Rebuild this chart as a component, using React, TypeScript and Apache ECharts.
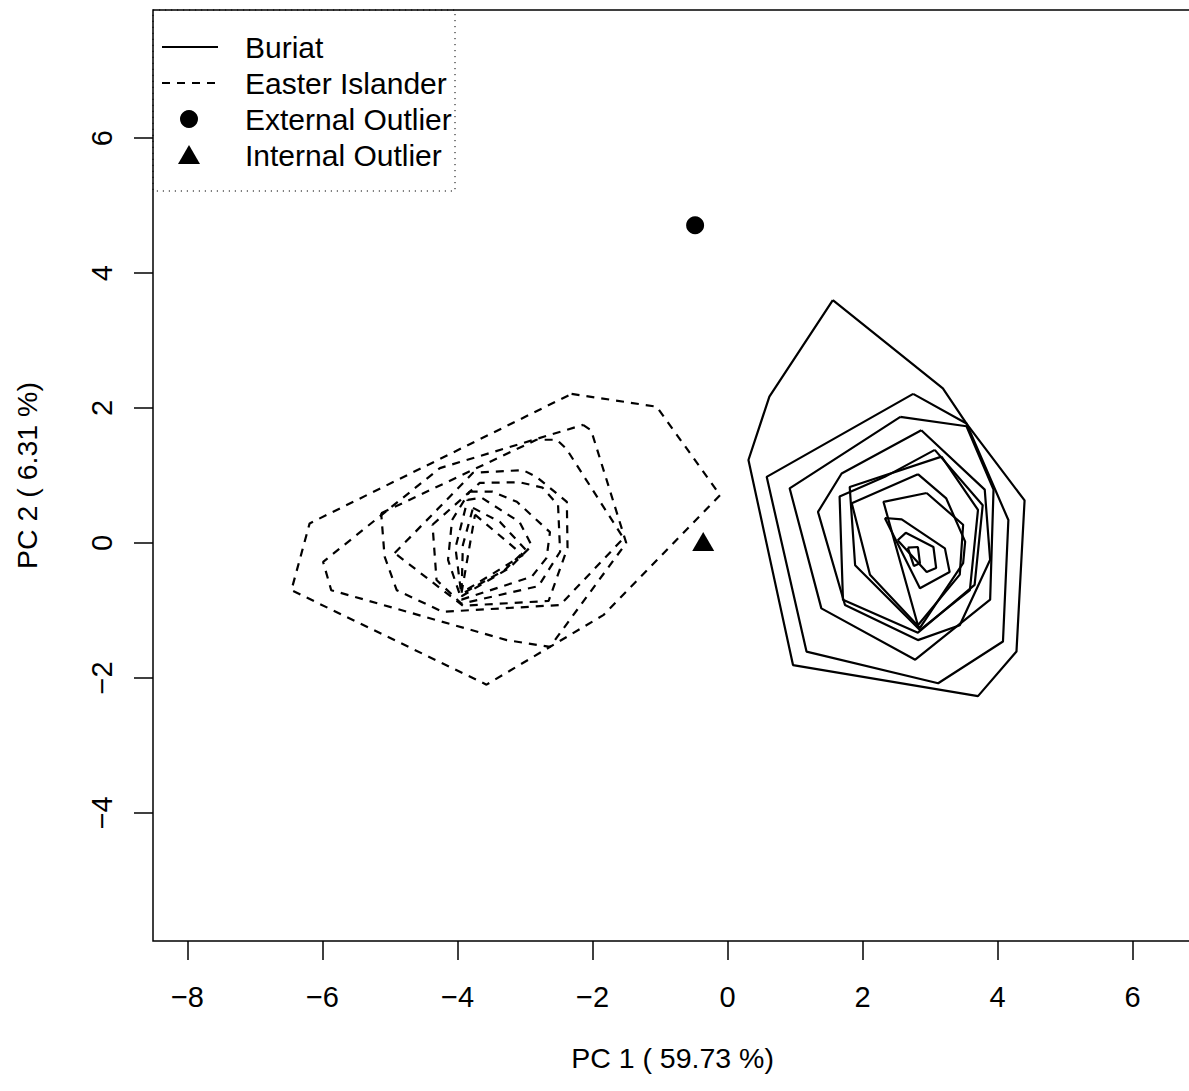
import React, { useEffect, useRef } from "react";
import * as echarts from "echarts";

// Axis ticks and titles
const xTicks = [-8, -6, -4, -2, 0, 2, 4, 6];
const yTicks = [-4, -2, 0, 2, 4, 6];
const xTitle = "PC 1 ( 59.73 %)";
const yTitle = "PC 2 ( 6.31 %)";

// Legend entries
const legendLabels = ["Buriat", "Easter Islander", "External Outlier", "Internal Outlier"];

// Buriat depth contours (PC1, PC2), outermost first
const buriat1 = [[1.56, 3.6], [3.19, 2.29], [3.54, 1.77], [4.4, 0.63], [4.28, -1.61], [3.71, -2.27], [0.97, -1.81], [0.31, 1.23], [0.62, 2.17]];
const buriat2 = [[2.75, 2.21], [3.54, 1.77], [4.16, 0.34], [4.08, -1.46], [3.12, -2.08], [1.17, -1.61], [0.58, 0.98]];
const buriat3 = [[2.56, 1.87], [3.54, 1.73], [3.94, 0.79], [3.89, -0.84], [2.78, -1.73], [1.39, -0.97], [0.92, 0.81]];
const buriat4 = [[2.87, 1.67], [3.81, 0.79], [3.89, -0.25], [3.44, -1.22], [2.82, -1.44], [1.74, -0.92], [1.34, 0.46], [1.69, 1.03]];
const buriat5 = [[3.07, 1.38], [3.78, 0.56], [3.66, -0.62], [2.82, -1.33], [1.71, -0.84], [1.66, 0.69], [2.33, 0.98]];
const buriat6 = [[3.17, 1.28], [3.71, 0.49], [3.59, -0.7], [2.85, -1.29], [1.89, -0.33], [1.81, 0.83]];
const buriat7 = [[2.82, 1.02], [3.24, 0.66], [3.52, 0.02], [3.49, -0.3], [2.85, -1.26], [2.11, -0.47], [1.84, 0.59]];
const buriat8 = [[2.95, 0.74], [3.49, 0.27], [3.44, -0.47], [2.82, -1.22], [2.31, 0.61]];
const buriat9 = [[2.33, 0.37], [2.58, 0.35], [3.22, -0.08], [3.29, -0.43], [2.85, -0.67]];
const buriat10 = [[2.52, 0.04], [2.64, 0.15], [3.05, -0.06], [3.09, -0.37], [2.95, -0.43]];
const buriat11 = [[2.67, -0.07], [2.82, -0.06], [2.85, -0.3], [2.76, -0.34]];

// Easter Islander depth contours, outermost first
const easter1 = [[-2.31, 2.21], [-1.05, 2.02], [-0.11, 0.71], [-1.84, -1.07], [-3.57, -2.1], [-6.46, -0.7], [-6.19, 0.29]];
const easter2 = [[-2.14, 1.75], [-2.02, 1.67], [-1.5, 0.0], [-2.63, -1.54], [-3.27, -1.44], [-5.87, -0.7], [-5.99, -0.28], [-4.26, 1.11]];
const easter3 = [[-5.13, 0.44], [-2.83, 1.53], [-2.53, 1.53], [-2.39, 1.4], [-1.54, 0.07], [-2.48, -0.92], [-4.22, -1.02], [-4.9, -0.7], [-5.08, -0.2]];
const easter4 = [[-4.93, -0.15], [-3.77, 1.04], [-3.03, 1.08], [-2.83, 0.98], [-2.38, 0.61], [-2.37, -0.07], [-2.65, -0.86], [-3.92, -0.93]];
const easter5 = [[-4.37, 0.27], [-3.67, 0.89], [-3.08, 0.9], [-2.74, 0.82], [-2.51, 0.56], [-2.48, -0.13], [-2.8, -0.64], [-3.94, -0.9], [-4.31, -0.55]];
const easter6 = [[-3.82, 0.76], [-3.48, 0.76], [-3.12, 0.61], [-2.63, 0.16], [-2.68, -0.22], [-2.9, -0.5], [-3.94, -0.84], [-4.14, -0.25], [-4.08, 0.34]];
const easter7 = [[-3.85, 0.64], [-3.64, 0.67], [-3.08, 0.31], [-2.9, -0.04], [-3.23, -0.37], [-3.94, -0.79], [-4.03, -0.07]];
const easter8 = [[-3.77, 0.52], [-3.37, 0.31], [-2.99, -0.1], [-3.3, -0.4], [-3.94, -0.76], [-3.92, -0.03]];
const easter9 = [[-3.74, 0.42], [-3.03, -0.18], [-3.94, -0.74]];

// Outlying observations
const externalOutlier = [[-0.48, 4.71]];
const internalOutlier = [[-0.36, 0.02]];

const buriatRings = [buriat1, buriat2, buriat3, buriat4, buriat5, buriat6, buriat7, buriat8, buriat9, buriat10, buriat11];
const easterRings = [easter1, easter2, easter3, easter4, easter5, easter6, easter7, easter8, easter9];

const FONT = "'Liberation Sans', Arial, Helvetica, sans-serif";
const DASH = [8, 7];
const LINE_W = 2.2;

const minusFmt = (v: number) => (v < 0 ? "\u2212" + Math.abs(v) : String(v));

function ringSeries(name: string, pts: number[][], dashed: boolean) {
  return {
    type: "line",
    name,
    data: [...pts, pts[0]],
    showSymbol: false,
    symbol: "none",
    silent: true,
    lineStyle: { color: "#000", width: LINE_W, type: dashed ? DASH : "solid", opacity: 1 },
    z: 3,
  };
}

export default function App() {
  const ref = useRef<HTMLDivElement>(null);

  useEffect(() => {
    const chart = echarts.init(ref.current!, undefined, { renderer: "svg" });

    const series: any[] = [];
    buriatRings.forEach((r) => series.push(ringSeries("Buriat", r, false)));
    easterRings.forEach((r) => series.push(ringSeries("Easter Islander", r, true)));
    series.push({
      type: "scatter",
      name: "External Outlier",
      data: externalOutlier,
      symbol: "circle",
      symbolSize: 18,
      itemStyle: { color: "#000", opacity: 1 },
      silent: true,
      z: 4,
    });
    series.push({
      type: "scatter",
      name: "Internal Outlier",
      data: internalOutlier,
      symbol: "triangle",
      symbolSize: [22, 19],
      itemStyle: { color: "#000", opacity: 1 },
      silent: true,
      z: 4,
    });

    // Legend box drawn in the top-left corner of the plot
    const lx0 = 162;
    const lx1 = 218;
    const rowY = [47, 83, 119, 155];
    const graphic: any[] = [
      {
        type: "rect",
        shape: { x: 153, y: 10, width: 302, height: 181 },
        style: { fill: "none", stroke: "#000", lineWidth: 1, lineDash: [1.2, 4.8] },
        z: 10,
      },
      {
        type: "line",
        shape: { x1: lx0, y1: rowY[0], x2: lx1, y2: rowY[0] },
        style: { stroke: "#000", lineWidth: LINE_W },
        z: 10,
      },
      {
        type: "line",
        shape: { x1: lx0, y1: rowY[1], x2: lx1, y2: rowY[1] },
        style: { stroke: "#000", lineWidth: LINE_W, lineDash: DASH },
        z: 10,
      },
      {
        type: "circle",
        shape: { cx: 189, cy: rowY[2], r: 9 },
        style: { fill: "#000" },
        z: 10,
      },
      {
        type: "polygon",
        shape: { points: [[178, rowY[3] + 9], [200, rowY[3] + 9], [189, rowY[3] - 10]] },
        style: { fill: "#000" },
        z: 10,
      },
      ...legendLabels.map((t, i) => ({
        type: "text",
        x: 245,
        y: rowY[i],
        style: {
          text: t,
          fill: "#000",
          fontSize: 30,
          fontFamily: FONT,
          align: "left",
          verticalAlign: "middle",
        },
        z: 10,
      })),
    ];

    chart.setOption({
      animation: false,
      backgroundColor: "#fff",
      grid: {
        left: 153,
        top: 10,
        width: 1039,
        height: 931,
        show: true,
        borderColor: "#000",
        borderWidth: 1.5,
        backgroundColor: "transparent",
        containLabel: false,
        outerBoundsMode: "none",
      },
      xAxis: {
        type: "value",
        min: -8.51,
        max: 6.88,
        splitLine: { show: false },
        axisLine: { show: false, onZero: false },
        axisTick: {
          show: true,
          length: 19,
          inside: false,
          customValues: xTicks,
          lineStyle: { color: "#000", width: 1.5 },
        },
        axisLabel: {
          customValues: xTicks,
          formatter: minusFmt,
          color: "#000",
          fontSize: 29,
          fontFamily: FONT,
          margin: 41,
        },
        name: xTitle,
        nameLocation: "middle",
        nameGap: 102,
        nameTextStyle: { color: "#000", fontSize: 28.5, fontFamily: FONT },
      },
      yAxis: {
        type: "value",
        min: -5.9,
        max: 7.9,
        splitLine: { show: false },
        axisLine: { show: false, onZero: false },
        axisTick: {
          show: true,
          length: 19,
          inside: false,
          customValues: yTicks,
          lineStyle: { color: "#000", width: 1.5 },
        },
        axisLabel: {
          customValues: yTicks,
          formatter: minusFmt,
          color: "#000",
          fontSize: 29,
          fontFamily: FONT,
          rotate: 90,
          margin: 37,
        },
        name: yTitle,
        nameLocation: "middle",
        nameGap: 112,
        nameRotate: 90,
        nameTextStyle: { color: "#000", fontSize: 28.5, fontFamily: FONT },
      },
      series,
      graphic,
    });

    return () => chart.dispose();
  }, []);

  return (
    <div
      ref={ref}
      style={{ position: "fixed", left: 0, top: 0, width: 1189, height: 1091, background: "#fff" }}
    />
  );
}
